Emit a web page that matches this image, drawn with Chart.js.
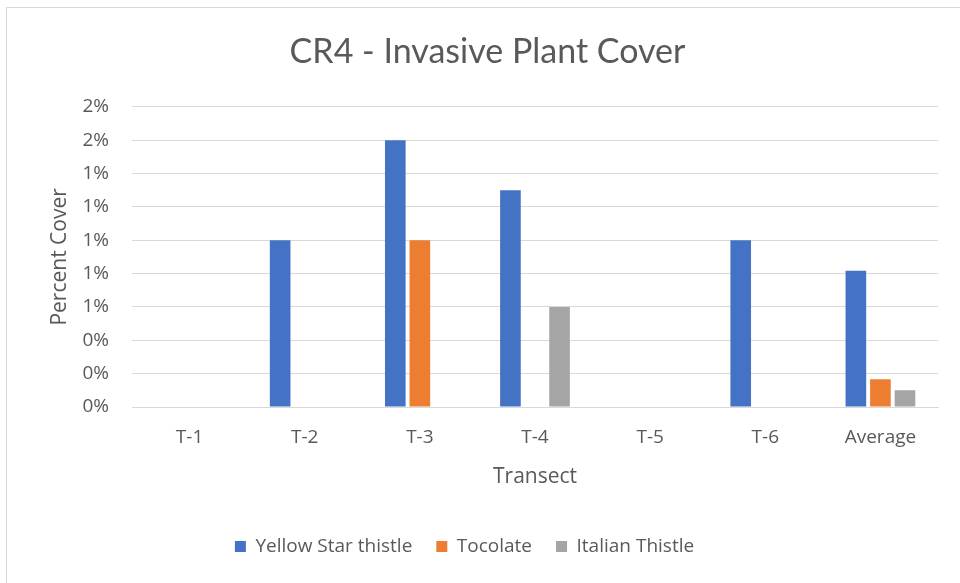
<!DOCTYPE html>
<html>
<head>
<meta charset="utf-8">
<script src="https://cdn.jsdelivr.net/npm/chart.js@4"></script>
<style>
  body { margin: 0; background: #fff; }
  .frame {
    position: absolute; left: 6px; top: 7px;
    width: 954px; height: 576px;
    border-top: 1px solid #d9d9d9; border-left: 1px solid #d9d9d9;
  }
</style>
</head>
<body>
<div class="frame"><canvas id="chart" width="954" height="576"></canvas></div>
<script>
// values in percent
const transects = ['T-1', 'T-2', 'T-3', 'T-4', 'T-5', 'T-6', 'Average'];
const yellowStar = [0, 1.0, 1.6, 1.3, 0, 1.0, 0.817];
const tocolate = [0, 0, 1.0, 0, 0, 0, 0.167];
const italianThistle = [0, 0, 0, 0.6, 0, 0, 0.1];
const yTickLabels = ['0%', '0%', '0%', '1%', '1%', '1%', '1%', '1%', '2%', '2%'];

const textColor = '#595959';
const gridColor = '#d9d9d9';

// legend sits a bit left of the title in the original
const nudgeLegend = {
  id: 'nudgeLegend',
  afterLayout(chart) {
    if (chart.legend) chart.legend.right -= 46;
  }
};

new Chart(document.getElementById('chart'), {
  type: 'bar',
  data: {
    labels: transects,
    datasets: [
      { label: 'Yellow Star thistle', data: yellowStar, backgroundColor: '#4472c4' },
      { label: 'Tocolate', data: tocolate, backgroundColor: '#ed7d31' },
      { label: 'Italian Thistle', data: italianThistle, backgroundColor: '#a5a5a5' }
    ]
  },
  plugins: [nudgeLegend],
  options: {
    responsive: false,
    animation: false,
    categoryPercentage: 0.64,
    barPercentage: 0.84,
    layout: { padding: { top: 0, left: 30, right: 23, bottom: 18 } },
    plugins: {
      title: {
        display: true,
        text: 'CR4 - Invasive Plant Cover',
        color: textColor,
        font: { family: 'Lato', size: 34, weight: 'normal' },
        padding: { top: 24, bottom: 34 }
      },
      legend: {
        position: 'bottom',
        labels: {
          color: textColor,
          font: { family: 'Open Sans', size: 19 },
          boxWidth: 11,
          boxHeight: 11,
          padding: 24
        }
      },
      tooltip: { enabled: false }
    },
    scales: {
      x: {
        grid: { display: false },
        border: { color: gridColor },
        ticks: { color: textColor, font: { family: 'Open Sans', size: 19 }, padding: 11 },
        title: {
          display: true, text: 'Transect', color: textColor,
          font: { family: 'Open Sans', size: 21 },
          padding: { top: 0, bottom: 23 }
        },
        afterFit: s => { s.height = 106; }
      },
      y: {
        min: 0,
        max: 1.8,
        grid: { color: gridColor, drawTicks: false },
        border: { display: false },
        ticks: {
          stepSize: 0.2,
          color: textColor,
          font: { family: 'Open Sans', size: 19 },
          padding: 23,
          callback: (v, i) => yTickLabels[i]
        },
        title: {
          display: true, text: 'Percent Cover', color: textColor,
          font: { family: 'Open Sans', size: 21 },
          padding: { top: 10, bottom: 0 }
        },
        afterFit: s => { s.width = 95; }
      }
    }
  }
});
</script>
</body>
</html>
